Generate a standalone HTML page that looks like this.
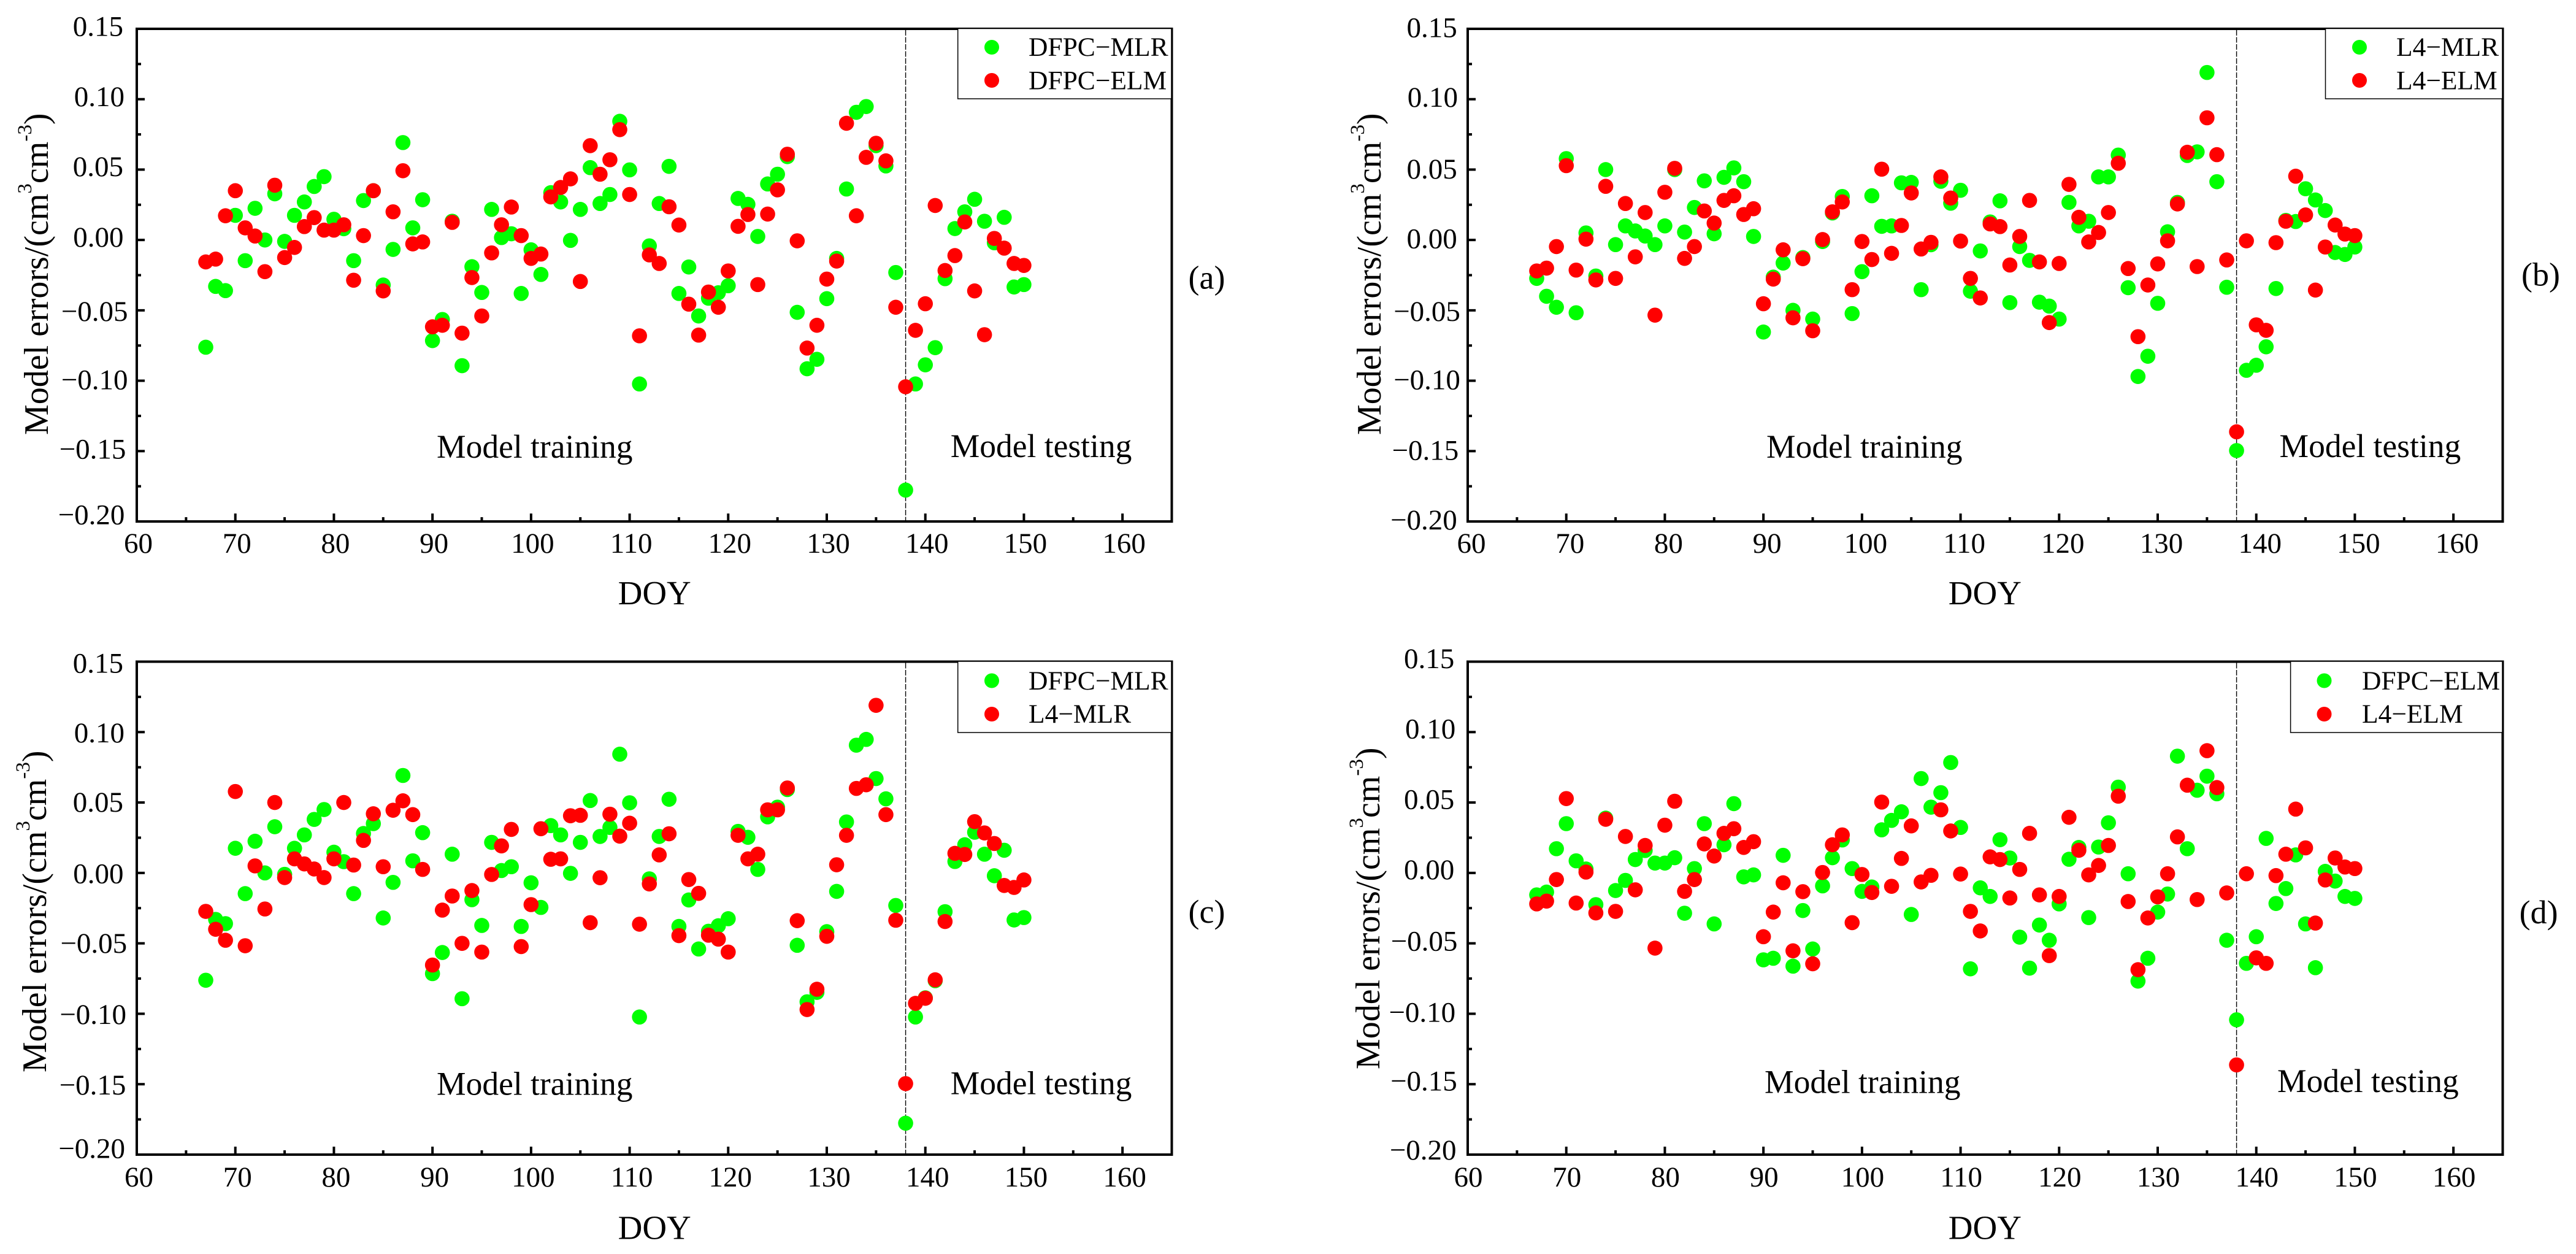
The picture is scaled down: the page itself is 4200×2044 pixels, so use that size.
<!DOCTYPE html>
<html lang="en">
<head>
<meta charset="utf-8">
<title>Model errors by DOY</title>
<style>
  html, body { margin: 0; padding: 0; background: #fff; }
  svg { display: block; }
  text { font-family: "Liberation Serif", "Times New Roman", serif; fill: #000; }
  .yt { font-size: 56px; }
  .sup { font-size: 33px; }
  .doy { font-size: 55px; }
  .plab { font-size: 54px; }
  .ann { font-size: 53.5px; }
  .leg { font-size: 43.5px; }
  .tick { font-size: 47px; }
</style>
</head>
<body>
<svg id="figure" xmlns="http://www.w3.org/2000/svg" width="4200" height="2044" viewBox="0 0 4200 2044">
  <rect x="0" y="0" width="4200" height="2044" fill="#fff"/>

  <!-- Panel a -->
  <g id="panel-a"></g>
  <g>
    <text class="yt" transform="translate(78,709) rotate(-90)">Model errors/(cm<tspan class="sup" dy="-27">3</tspan><tspan dy="27">cm</tspan><tspan class="sup" dy="-27">-3</tspan><tspan dy="27">)</tspan></text>
    <text class="doy" x="1007.6" y="985">DOY</text>
    <text class="plab" x="1937.5" y="470.6">(a)</text>
    <text class="ann" x="712" y="746">Model training</text>
    <text class="ann" x="1549.7" y="745">Model testing</text>
    <g>
      <rect x="1561.7" y="46.5" width="348.3" height="114.5" fill="#fff" stroke="#000" stroke-width="1.5"/>
      <circle cx="1617" cy="77" r="12" fill="#00ff00"/>
      <text class="leg" x="1677" y="91">DFPC−MLR</text>
      <circle cx="1617" cy="131" r="12" fill="#ff0000"/>
      <text class="leg" x="1677" y="145.5">DFPC−ELM</text>
    </g>
  </g>

  <!-- Panel b -->
  <g id="panel-b"></g>
  <g>
    <text class="yt" transform="translate(2250.8,709) rotate(-90)">Model errors/(cm<tspan class="sup" dy="-27">3</tspan><tspan dy="27">cm</tspan><tspan class="sup" dy="-27">-3</tspan><tspan dy="27">)</tspan></text>
    <text class="doy" x="3176.8" y="985">DOY</text>
    <text class="plab" x="4111" y="465.6">(b)</text>
    <text class="ann" x="2880" y="746">Model training</text>
    <text class="ann" x="3716.5" y="745">Model testing</text>
    <g>
      <rect x="3791.5" y="46.5" width="288.5" height="114.5" fill="#fff" stroke="#000" stroke-width="1.5"/>
      <circle cx="3847" cy="77" r="12" fill="#00ff00"/>
      <text class="leg" x="3907" y="91">L4−MLR</text>
      <circle cx="3847" cy="131" r="12" fill="#ff0000"/>
      <text class="leg" x="3907" y="145.5">L4−ELM</text>
    </g>
  </g>

  <!-- Panel c -->
  <g id="panel-c"></g>
  <g>
    <text class="yt" transform="translate(75,1748) rotate(-90)">Model errors/(cm<tspan class="sup" dy="-27">3</tspan><tspan dy="27">cm</tspan><tspan class="sup" dy="-27">-3</tspan><tspan dy="27">)</tspan></text>
    <text class="doy" x="1007.6" y="2019.4">DOY</text>
    <text class="plab" x="1937.5" y="1504">(c)</text>
    <text class="ann" x="712" y="1784.7">Model training</text>
    <text class="ann" x="1549.7" y="1783.4">Model testing</text>
    <g>
      <rect x="1561.7" y="1078" width="348.3" height="116" fill="#fff" stroke="#000" stroke-width="1.5"/>
      <circle cx="1617" cy="1109.5" r="12" fill="#00ff00"/>
      <text class="leg" x="1677" y="1124">DFPC−MLR</text>
      <circle cx="1617" cy="1164" r="12" fill="#ff0000"/>
      <text class="leg" x="1677" y="1178">L4−MLR</text>
    </g>
  </g>

  <!-- Panel d -->
  <g id="panel-d"></g>
  <g>
    <text class="yt" transform="translate(2249,1743) rotate(-90)">Model errors/(cm<tspan class="sup" dy="-27">3</tspan><tspan dy="27">cm</tspan><tspan class="sup" dy="-27">-3</tspan><tspan dy="27">)</tspan></text>
    <text class="doy" x="3176.8" y="2019.4">DOY</text>
    <text class="plab" x="4107.6" y="1505">(d)</text>
    <text class="ann" x="2877" y="1781.4">Model training</text>
    <text class="ann" x="3713" y="1780">Model testing</text>
    <g>
      <rect x="3734.6" y="1078" width="345.4" height="116" fill="#fff" stroke="#000" stroke-width="1.5"/>
      <circle cx="3789.5" cy="1109.5" r="12" fill="#00ff00"/>
      <text class="leg" x="3851" y="1124">DFPC−ELM</text>
      <circle cx="3789.5" cy="1164" r="12" fill="#ff0000"/>
      <text class="leg" x="3851" y="1178">L4−ELM</text>
    </g>
  </g>
</svg>

<script>
// ---- chart data -----------------------------------------------------------
const days = [67,68,69,70,71,72,73,74,75,76,77,78,79,80,81,82,83,84,85,86,87,88,89,90,91,92,93,94,95,96,97,98,99,100,
  101,102,103,104,105,106,107,108,109,110,111,112,113,114,115,116,117,118,119,120,121,122,123,124,125,126,127,128,129,130,
  131,132,133,134,135,136,137,138,139,140,141,142,143,144,145,146,147,148,149,150];

const dfpcMlr = [-0.0762,-0.033,-0.036,0.0175,-0.0147,0.0225,0.000,0.0328,-0.001,0.0175,0.027,0.038,0.045,0.0147,0.008,-0.0147,0.028,0.035,-0.032,-0.0067,0.0692,0.0086,0.0286,-0.0715,-0.0565,0.0133,-0.0893,-0.019,-0.0373,0.0217,0.0017,0.0044,-0.038,-0.007,-0.0245,0.0336,0.027,-0.0003,0.0217,0.0514,0.0259,0.0323,0.0843,0.0498,-0.1023,-0.0042,0.0259,0.0523,-0.038,-0.0192,-0.054,-0.0414,-0.0375,-0.0325,0.0295,0.0253,0.0025,0.0398,0.0467,0.0592,-0.0514,-0.0915,-0.0848,-0.0417,-0.0131,0.0362,0.0907,0.0948,0.067,0.0526,-0.0231,-0.1777,-0.1023,-0.0887,-0.0765,-0.0275,0.0081,0.02,0.0289,0.0133,-0.002,0.0161,-0.0334,-0.0317];

const dfpcElm = [-0.0156,-0.0136,0.0172,0.035,0.0086,0.0028,-0.0225,0.0389,-0.0125,-0.0053,0.0095,0.0159,0.007,0.007,0.0108,-0.0286,0.0031,0.035,-0.0362,0.02,0.0492,-0.0028,-0.0014,-0.0617,-0.0606,0.0125,-0.0662,-0.0267,-0.054,-0.0092,0.0108,0.0234,0.0031,-0.0131,-0.01,0.0306,0.0373,0.0434,-0.0295,0.067,0.0467,0.057,0.0784,0.0323,-0.0681,-0.0106,-0.0167,0.0236,0.0106,-0.0456,-0.0676,-0.037,-0.0478,-0.022,0.0097,0.0181,-0.0317,0.0184,0.0356,0.0609,-0.0006,-0.0768,-0.0606,-0.0278,-0.015,0.0829,0.0172,0.0587,0.0687,0.0562,-0.0478,-0.1043,-0.0642,-0.0453,0.0245,-0.0217,-0.0111,0.0128,-0.0362,-0.0673,0.0011,-0.0058,-0.0167,-0.0181];

const l4Mlr = [-0.0273,-0.04,-0.0478,0.0578,-0.0517,0.005,-0.0256,0.05,-0.0033,0.01,0.0064,0.0028,-0.0033,0.01,0.05,0.0056,0.0231,0.042,0.0044,0.0445,0.0512,0.0414,0.0025,-0.0654,-0.0264,-0.0164,-0.05,-0.0125,-0.0562,-0.0011,0.0192,0.0309,-0.0523,-0.0225,0.0314,0.0097,0.01,0.0406,0.0409,-0.0353,-0.0034,0.0417,0.0261,0.0353,-0.0364,-0.0078,0.0128,0.0278,-0.0445,-0.0047,-0.0145,-0.0442,-0.047,-0.0562,0.0267,0.01,0.0133,0.0448,0.0448,0.0603,-0.0339,-0.097,-0.0826,-0.045,0.0058,0.0267,0.06,0.0626,0.119,0.0414,-0.0336,-0.1496,-0.0926,-0.089,-0.0759,-0.0345,0.0139,0.0131,0.0364,0.0284,0.0209,-0.0089,-0.0103,-0.005];

const l4Elm = [-0.022,-0.02,-0.0047,0.0528,-0.0214,0.0006,-0.0284,0.0381,-0.0273,0.0259,-0.012,0.0195,-0.0534,0.0339,0.0509,-0.0131,-0.0047,0.0206,0.012,0.0281,0.0314,0.0181,0.0222,-0.0453,-0.0278,-0.007,-0.0553,-0.0133,-0.0645,0.0003,0.02,0.027,-0.0353,-0.0011,-0.0139,0.0503,-0.0095,0.0103,0.0334,-0.0064,-0.0017,0.0448,0.0298,-0.0008,-0.0273,-0.0412,0.0114,0.0095,-0.0178,0.0025,0.0281,-0.0156,-0.0587,-0.0167,0.0395,0.0161,-0.0014,0.0053,0.0195,0.0545,-0.0203,-0.0687,-0.032,-0.017,-0.0006,0.0256,0.0623,-0.0189,0.0868,0.0606,-0.0142,-0.1363,-0.0006,-0.0603,-0.0642,-0.0019,0.0133,0.0453,0.0178,-0.0356,-0.005,0.0106,0.0042,0.0031];

const xTicks = [60,70,80,90,100,110,120,130,140,150,160];
const xTickLabels = ["60","70","80","90","100","110","120","130","140","150","160"];
const xMinorTicks = [65,75,85,95,105,115,125,135,145,155];
const yTicks = [0.15,0.10,0.05,0.00,-0.05,-0.10,-0.15,-0.20];
const yTickLabels = ["0.15","0.10","0.05","0.00","\u22120.05","\u22120.10","\u22120.15","\u22120.20"];
const yMinorTicks = [0.125,0.075,0.025,-0.025,-0.075,-0.125,-0.175];
const splitDay = 138;

// ---- axis domain ----------------------------------------------------------
const xMin = 60, xMax = 165, yMin = -0.20, yMax = 0.15;
const SVGNS = "http://www.w3.org/2000/svg";

function make(tag, attrs) {
  const el = document.createElementNS(SVGNS, tag);
  for (const k in attrs) el.setAttribute(k, attrs[k]);
  return el;
}

// ---- panel drawing --------------------------------------------------------
function drawPanel(cfg, greenSeries, redSeries) {
  const root = document.getElementById("panel-" + cfg.id);
  const xs = d => cfg.left + (d - xMin) * (cfg.right - cfg.left) / (xMax - xMin);
  const ys = v => cfg.top + (yMax - v) * (cfg.bottom - cfg.top) / (yMax - yMin);

  const frame = make("rect", { x: cfg.left, y: cfg.top, width: cfg.right - cfg.left, height: cfg.bottom - cfg.top, fill: "none", stroke: "#000", "stroke-width": 4 });
  
  
  root.appendChild(frame);

  xTicks.forEach((t, i) => {
    const line = make("line", { x1: xs(t), x2: xs(t), y1: cfg.bottom, y2: cfg.bottom - 13, stroke: "#000", "stroke-width": 4 });
    
    
    root.appendChild(line);
    const label = make("text", { class: "tick", x: xs(t) + cfg.xLabelDx, y: cfg.xLabelY, "text-anchor": "middle" });
    label.textContent = xTickLabels[i];
    
    
    root.appendChild(label);
  });

  xMinorTicks.forEach(t => {
    const line = make("line", { x1: xs(t), x2: xs(t), y1: cfg.bottom, y2: cfg.bottom - 7, stroke: "#000", "stroke-width": 4 });
    
    
    root.appendChild(line);
  });

  yTicks.forEach((t, i) => {
    const line = make("line", { x1: cfg.left, x2: cfg.left + 13, y1: ys(t), y2: ys(t), stroke: "#000", "stroke-width": 4 });
    
    
    root.appendChild(line);
    const label = make("text", { class: "tick", x: cfg.left + cfg.yLabelDx[i], y: ys(t) + cfg.yLabelDy[i], "text-anchor": "end" });
    label.textContent = yTickLabels[i];
    
    
    root.appendChild(label);
  });

  yMinorTicks.forEach((t, i) => {
    const line = make("line", { x1: cfg.left, x2: cfg.left + 7, y1: ys(t), y2: ys(t), stroke: "#000", "stroke-width": 4 });
    
    
    root.appendChild(line);
  });

  const divider = make("line", { x1: xs(splitDay), x2: xs(splitDay), y1: cfg.top + 2, y2: cfg.bottom - 2, stroke: "#000", "stroke-width": 1.4, "stroke-dasharray": "9 2.5" });
  
  
  root.appendChild(divider);

  const greenGroup = make("g", { fill: "#00ff00" });
  
  
  root.appendChild(greenGroup);
  greenSeries.forEach((v, i) => {
    const pt = make("circle", { cx: xs(days[i]), cy: ys(v), r: 12.3 });
    
    
    greenGroup.appendChild(pt);
  });

  const redGroup = make("g", { fill: "#ff0000" });
  
  
  root.appendChild(redGroup);
  redSeries.forEach((v, i) => {
    const pt = make("circle", { cx: xs(days[i]), cy: ys(v), r: 12.3 });
    
    
    redGroup.appendChild(pt);
  });
}

// ---- panel layouts (pixels live here, not in the data arrays) --------------
drawPanel({ id: "a", left: 223, right: 1910.5, top: 47, bottom: 850, xLabelDx: 2.5, xLabelY: 901,
  yLabelDx: [-22,-20,-22,-21.5,-14.5,-14.5,-17.6,-19.6], yLabelDy: [11.7,11.1,10.6,10.7,17.1,14,12.1,4.6],
  greenName: "dfpc-mlr-a", redName: "dfpc-elm-a" }, dfpcMlr, dfpcElm);

drawPanel({ id: "b", left: 2393, right: 4080.5, top: 47, bottom: 850, xLabelDx: 6, xLabelY: 901,
  yLabelDx: [-17.2,-16,-17.2,-17.2,-12.1,-12.1,-14.7,-17.2], yLabelDy: [13.6,12.4,14.4,13.2,17.1,14,14.1,12.9],
  greenName: "l4-mlr-b", redName: "l4-elm-b" }, l4Mlr, l4Elm);

drawPanel({ id: "c", left: 223, right: 1910.5, top: 1078.5, bottom: 1882, xLabelDx: 3.5, xLabelY: 1934,
  yLabelDx: [-22,-20,-22,-21.5,-15.8,-17,-17.6,-19], yLabelDy: [18.1,16.5,14.8,16.4,15.6,16.5,16.8,5.5],
  greenName: "dfpc-mlr-c", redName: "l4-mlr-c" }, dfpcMlr, l4Mlr);

drawPanel({ id: "d", left: 2393, right: 4080.5, top: 1078.5, bottom: 1882, xLabelDx: 1, xLabelY: 1934,
  yLabelDx: [-21.7,-19.8,-21.7,-21.7,-16.6,-19.8,-17.2,-18.5], yLabelDy: [10.3,10,10.3,10,11.7,13.3,10.3,8],
  greenName: "dfpc-elm-d", redName: "l4-elm-d" }, dfpcElm, l4Elm);
</script>
</body>
</html>
